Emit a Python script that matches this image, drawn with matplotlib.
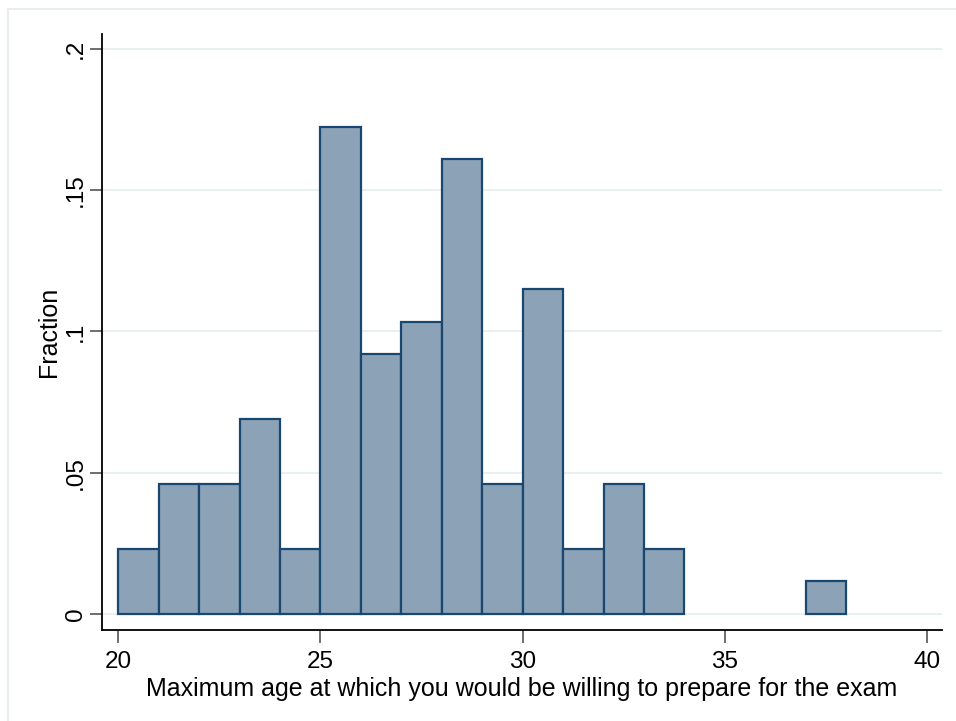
import matplotlib.pyplot as plt
from matplotlib.patches import Rectangle
import numpy as np

plt.rcParams['font.family'] = ['Liberation Sans', 'DejaVu Sans']

# histogram of ages, bin width 1 (n = 87)
bin_left = [20, 21, 22, 23, 24, 25, 26, 27, 28, 29, 30, 31, 32, 33, 37]
counts = [2, 4, 4, 6, 2, 15, 8, 9, 14, 4, 10, 2, 4, 2, 1]
n_obs = 87

fraction = np.array(counts) / n_obs

fig = plt.figure(figsize=(9.56, 7.21), dpi=100)
fig.patches.append(Rectangle((8 / 956, -0.1), 1.2, 1 - 8.5 / 721 + 0.1,
                             transform=fig.transFigure, fill=False,
                             edgecolor='#e8eef0', linewidth=1.5))

ax = fig.add_axes([0.1067, 0.1262, 0.8787, 0.8266])
ax.bar(bin_left, fraction, width=1, align='edge',
       color='#8ca2b7', edgecolor='#1a476f', linewidth=1.6, zorder=3)

ax.set_xlim(19.6, 40.37)
ax.set_ylim(-0.0057, 0.2053)
ax.set_xticks([20, 25, 30, 35, 40])
ax.set_yticks([0, 0.05, 0.1, 0.15, 0.2])
ax.set_yticklabels(['0', '.05', '.1', '.15', '.2'], rotation=90, va='center')
ax.grid(axis='y', color='#e6eff1', linewidth=1.3, zorder=0)

for side in ['top', 'right']:
    ax.spines[side].set_visible(False)
for side in ['left', 'bottom']:
    ax.spines[side].set_linewidth(1.3)

ax.tick_params(axis='both', length=9, width=1.2, color='#555555',
               labelsize=17.5, pad=6)
ax.tick_params(axis='y', pad=2)

ax.set_xlabel('Maximum age at which you would be willing to prepare for the exam',
              fontsize=18, labelpad=3)
ax.set_ylabel('Fraction', fontsize=18, labelpad=3)

fig.savefig('out.png', dpi=100)
